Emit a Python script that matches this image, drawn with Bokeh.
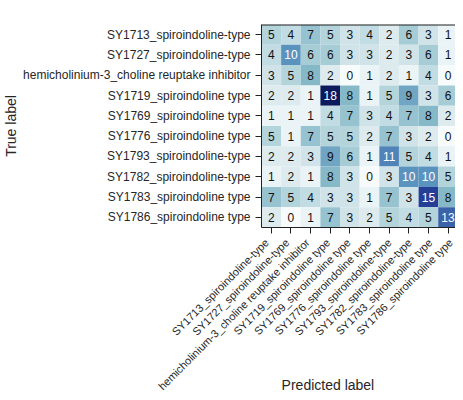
import math
import numpy as np
from bokeh.plotting import figure
from bokeh.models import ColumnDataSource, LinearColorMapper, Range1d, FixedTicker, Span
from bokeh.embed import file_html
from bokeh.resources import INLINE
from bokeh.core.properties import value

class_labels = [
    "SY1713_spiroindoline-type",
    "SY1727_spiroindoline-type",
    "hemicholinium-3_choline reuptake inhibitor",
    "SY1719_spiroindoline type",
    "SY1769_spiroindoline type",
    "SY1776_spiroindoline type",
    "SY1793_spiroindoline-type",
    "SY1782_spiroindoline-type",
    "SY1783_spiroindoline type",
    "SY1786_spiroindoline type",
]

confusion = [
    [5, 4, 7, 5, 3, 4, 2, 6, 3, 1],
    [4, 10, 6, 6, 3, 3, 2, 3, 6, 1],
    [3, 5, 8, 2, 0, 1, 2, 1, 4, 0],
    [2, 2, 1, 18, 8, 1, 5, 9, 3, 6],
    [1, 1, 1, 4, 7, 3, 4, 7, 8, 2],
    [5, 1, 7, 5, 5, 2, 7, 3, 2, 0],
    [2, 2, 3, 9, 6, 1, 11, 5, 4, 1],
    [1, 2, 1, 8, 3, 0, 3, 10, 10, 5],
    [7, 5, 4, 3, 3, 1, 7, 3, 15, 8],
    [2, 0, 1, 7, 3, 2, 5, 4, 5, 13],
]

x_title = "Predicted label"
y_title = "True label"

# colour ramp (style)
anchor_pos = [0, 3, 6, 8, 10, 13, 15, 18]
anchor_col = ["#f7fbfc", "#cfe3e9", "#a6ccd6", "#86b9c8", "#5b93bf", "#3a63aa", "#243f96", "#0b1a5c"]

def hex2rgb(h):
    h = h.lstrip("#")
    return [int(h[i:i + 2], 16) for i in (0, 2, 4)]

rgbs = np.array([hex2rgb(c) for c in anchor_col], dtype=float)
vmax = max(max(r) for r in confusion)
palette = []
for t in np.linspace(0, vmax, 256):
    rgb = [np.interp(t, anchor_pos, rgbs[:, k]) for k in range(3)]
    palette.append("#%02x%02x%02x" % tuple(int(round(c)) for c in rgb))

n = len(class_labels)
xs, ys, vals, tcol = [], [], [], []
for i, row in enumerate(confusion):
    for j, v in enumerate(row):
        xs.append(j)
        ys.append(i)
        vals.append(v)
        tcol.append("white" if v > vmax / 2 else "#111111")
src = ColumnDataSource(dict(x=xs, y=ys, v=vals, txt=[str(v) for v in vals], tc=tcol))
mapper = LinearColorMapper(palette=palette, low=0, high=vmax)

# layout constants
W = 455
LEFT = 253
TOP = 24
FRAME_H = 203
BOT = 8
MAIN_H = TOP + FRAME_H + BOT
LOW_H = 392 - MAIN_H
X_END = 9.38
cell = (W - LEFT) / (X_END + 0.5)

TEXT_FONT = "Liberation Sans"

p = figure(width=W, height=MAIN_H, output_backend="svg", toolbar_location=None,
           x_range=Range1d(-0.5, X_END), y_range=Range1d(n - 0.5, -0.5),
           min_border_left=LEFT, min_border_right=0, min_border_top=TOP, min_border_bottom=BOT)
p.outline_line_color = None
p.grid.visible = False

p.rect(x="x", y="y", width=1, height=1, source=src,
       fill_color={"field": "v", "transform": mapper}, line_color=None)
p.text(x="x", y="y", text="txt", source=src, text_color="tc",
       text_align="center", text_baseline="middle",
       text_font=value(TEXT_FONT), text_font_size="12px")

p.add_layout(Span(location=-0.5, dimension="width", line_color="#222222", line_width=2))

ticks = list(range(n))

# x axis: tick marks only (labels drawn rotated below)
xa = p.xaxis[0]
xa.ticker = FixedTicker(ticks=[], minor_ticks=ticks)
xa.minor_tick_in = 0
xa.minor_tick_out = 6
xa.minor_tick_line_color = "#222222"
xa.major_tick_line_color = None
xa.axis_line_color = "#222222"

ya = p.yaxis[0]
ya.ticker = FixedTicker(ticks=ticks)
ya.major_label_overrides = {i: lab for i, lab in enumerate(class_labels)}
ya.minor_tick_line_color = None
ya.major_tick_in = 0
ya.major_tick_out = 6
ya.major_tick_line_color = "#222222"
ya.axis_line_color = "#222222"
ya.major_label_text_font = TEXT_FONT
ya.major_label_text_font_size = "12px"
ya.major_label_text_color = "#262626"
ya.major_label_standoff = 5
ya.axis_label = y_title
ya.axis_label_text_font = TEXT_FONT
ya.axis_label_text_font_size = "14px"
ya.axis_label_text_font_style = "normal"
ya.axis_label_text_color = "#262626"
ya.axis_label_standoff = 1

# lower strip: rotated category labels + x title, aligned to the same x scale
low = figure(width=W, height=LOW_H, output_backend="svg", toolbar_location=None,
             x_range=Range1d(-0.5 - LEFT / cell, X_END), y_range=Range1d(LOW_H, 0),
             x_axis_location=None, y_axis_location=None,
             min_border_left=0, min_border_right=0, min_border_top=0, min_border_bottom=0)
low.outline_line_color = None
low.grid.visible = False

lab_src = ColumnDataSource(dict(x=ticks, text=class_labels))
low.text(x="x", y=5, text="text", source=lab_src, angle=math.pi / 4,
         x_offset=3, text_align="right", text_baseline="middle",
         text_font=value(TEXT_FONT), text_font_size="11px", text_color="#262626")

low.text(x=[3.14], y=[LOW_H - 16], text=[x_title], text_align="center", text_baseline="top",
         text_font=value(TEXT_FONT), text_font_size="14px", text_color="#262626")

open("out.html", "w").write(file_html([p, low], INLINE))
